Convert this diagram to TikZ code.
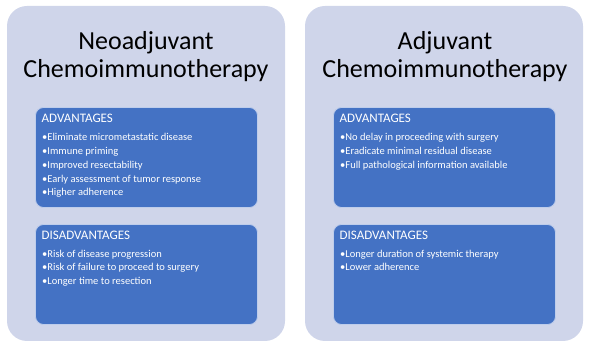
\documentclass[tikz,border=0pt]{standalone}
\usepackage{fontspec}
\setmainfont{Carlito}
\usepackage{tikz}
\usepackage{xcolor}
\usetikzlibrary{positioning}
\definecolor{cPanel}{RGB}{207,213,234}
\definecolor{cBlue}{RGB}{68,114,196}
\definecolor{cEdge}{RGB}{190,205,235}
\tikzset{
	panel/.style   ={rectangle, rounded corners=20pt, fill=cPanel, minimum width=278pt, minimum height=335pt, inner sep=0pt},
	infobox/.style ={rectangle, rounded corners=8pt, draw=cEdge, line width=0.8pt, fill=cBlue, minimum width=222pt, minimum height=100pt, inner sep=0pt},
	heading/.style ={align=center, font=\fontsize{26}{28}\selectfont, inner sep=0pt},
	% text inside the blue boxes (anchored at the last line)
	boxhead/.style ={anchor=base west, text=white, font=\fontsize{13}{15}\selectfont, inner sep=0pt},
	boxlist/.style ={anchor=base west, align=left, text=white, font=\fontsize{10.5}{13.7}\selectfont, inner sep=0pt},
}
\begin{document}
\begin{tikzpicture}[x=1pt,y=1pt]
	\useasboundingbox (0,0) rectangle (594,347);
	% panels
	\node[panel] (neo) at (146,173.5) {};
	\node[panel] (adj) at (444,173.5) {};
	\node[heading, anchor=base] (neoTitle) at (146,269) {Neoadjuvant\\Chemoimmunotherapy};
	\node[heading, anchor=base] (adjTitle) at (445,269) {Adjuvant\\Chemoimmunotherapy};
	% neoadjuvant boxes
	\node[infobox] (neoPro) at (146.5,189.5) {};
	\node[infobox] (neoCon) at (146.5,72.5) {};
	\node[boxhead] (neoProHead) at (41.5,224) {ADVANTAGES};
	\node[boxlist] (neoProList) at (42,151.2) {•Eliminate micrometastatic disease\\•Immune priming\\•Improved resectability\\•Early assessment of tumor response\\•Higher adherence};
	\node[boxhead] (neoConHead) at (41.5,107) {DISADVANTAGES};
	\node[boxlist] (neoConList) at (42,62.3) {•Risk of disease progression\\•Risk of failure to proceed to surgery\\•Longer time to resection};
	% adjuvant boxes
	\node[infobox] (adjPro) at (444.5,189.5) {};
	\node[infobox] (adjCon) at (444.5,72.5) {};
	\node[boxhead] (adjProHead) at (339.5,224) {ADVANTAGES};
	\node[boxlist] (adjProList) at (340,178.6) {•No delay in proceeding with surgery\\•Eradicate minimal residual disease\\•Full pathological information available};
	\node[boxhead] (adjConHead) at (339.5,107) {DISADVANTAGES};
	\node[boxlist] (adjConList) at (340,76) {•Longer duration of systemic therapy\\•Lower adherence};
\end{tikzpicture}
\end{document}
